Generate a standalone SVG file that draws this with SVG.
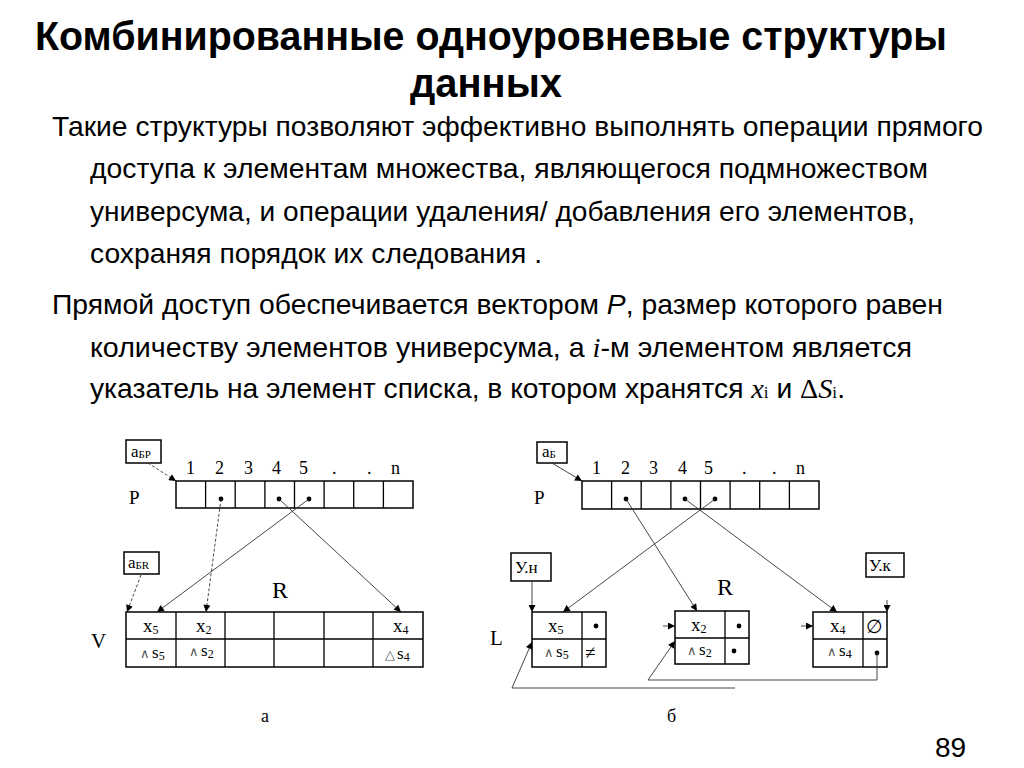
<svg xmlns="http://www.w3.org/2000/svg" width="1024" height="768" viewBox="0 0 1024 768">
<defs>
<style>
.title{font-family:"Liberation Sans",Arial,sans-serif;font-weight:bold;font-size:40px;fill:#000}
.body{font-family:"Liberation Sans",Arial,sans-serif;font-size:28px;fill:#000}
.tm{font-family:"Liberation Serif","Times New Roman",serif;fill:#000}
.box{fill:none;stroke:#000;stroke-width:1.5}
.cell{fill:none;stroke:#000;stroke-width:1.3}
.con{fill:none;stroke:#333;stroke-width:0.9}
.dash{stroke-dasharray:3 2}
.num{font-size:18px}
.lab{font-size:17px}
.sub{font-size:11px}
.cx{font-size:19px}
.cs{font-size:12px}
.ss{font-size:17px}
.wedge{font-size:13px;fill:#555}
</style>
<marker id="ah" viewBox="0 0 10 10" refX="10" refY="5" markerWidth="10" markerHeight="7" orient="auto" markerUnits="userSpaceOnUse">
<path d="M0,0 L10,5 L0,10 z" fill="#000"/>
</marker>
</defs>
<rect x="0" y="0" width="1024" height="768" fill="#fff"/>

<g id="texts">
<text class="title" x="35" y="50" textLength="912" lengthAdjust="spacingAndGlyphs">Комбинированные одноуровневые структуры</text>
<text class="title" x="410" y="97" textLength="152" lengthAdjust="spacingAndGlyphs">данных</text>
<text class="body" x="52" y="136" textLength="931" lengthAdjust="spacingAndGlyphs">Такие структуры позволяют эффективно выполнять операции прямого</text>
<text class="body" x="90" y="178" textLength="838" lengthAdjust="spacingAndGlyphs">доступа к элементам множества, являющегося подмножеством</text>
<text class="body" x="90" y="221" textLength="825" lengthAdjust="spacingAndGlyphs">универсума, и операции удаления/ добавления его элементов,</text>
<text class="body" x="90" y="263" textLength="452" lengthAdjust="spacingAndGlyphs">сохраняя порядок их следования .</text>
<text class="body" x="52" y="314" textLength="891" lengthAdjust="spacingAndGlyphs">Прямой доступ обеспечивается вектором <tspan font-style="italic">P</tspan>, размер которого равен</text>
<text class="body" x="90" y="357" textLength="822" lengthAdjust="spacingAndGlyphs">количеству элементов универсума, а <tspan font-family="Liberation Serif, serif" font-style="italic">i</tspan>-м элементом  является</text>
<text class="body" x="90" y="398" textLength="755" lengthAdjust="spacingAndGlyphs">указатель на элемент списка, в котором хранятся <tspan font-family="Liberation Serif, serif" font-style="italic">x</tspan><tspan font-family="Liberation Serif, serif" font-size="17px">i</tspan> и <tspan font-family="Liberation Serif, serif">Δ</tspan><tspan font-family="Liberation Serif, serif" font-style="italic">S</tspan><tspan font-family="Liberation Serif, serif" font-size="17px">i</tspan>.</text>
<text class="body" x="935" y="757" font-size="27px">89</text>
</g>

<!-- Left diagram (a) -->
<g id="a-labels" class="tm">
<text class="num" x="186" y="474">1</text>
<text class="num" x="215" y="474">2</text>
<text class="num" x="244" y="474">3</text>
<text class="num" x="272" y="474">4</text>
<text class="num" x="299" y="474">5</text>
<text class="num" x="332" y="474">.</text>
<text class="num" x="367" y="474">.</text>
<text class="num" x="391" y="474">n</text>
<text x="129" y="504" font-size="19px">P</text>
<text x="91" y="648" font-size="21px">V</text>
<text x="272" y="598" font-size="24px">R</text>
<text x="261" y="722" font-size="18px">а</text>
</g>

<g id="a-aBP">
<rect class="box" x="126" y="440" width="35" height="23"/>
<text class="tm lab" x="131" y="457">a<tspan class="sub" dy="1">БР</tspan></text>
</g>

<g id="a-P">
<rect class="box" x="176" y="481" width="237" height="27"/>
<path class="cell" d="M205.6,481V508M235.2,481V508M264.9,481V508M294.5,481V508M324.1,481V508M353.7,481V508M383.4,481V508"/>
<circle cx="221" cy="499" r="2.4"/>
<circle cx="279" cy="499" r="2.4"/>
<circle cx="309" cy="499" r="2.4"/>
</g>

<g id="a-aBR">
<rect class="box" x="124" y="552" width="35" height="22"/>
<text class="tm lab" x="128" y="568">a<tspan class="sub" dy="1">БR</tspan></text>
</g>

<g id="a-V">
<rect class="box" x="126" y="612" width="297" height="55"/>
<path class="cell" d="M126,639H423M176,612V667M225,612V667M274,612V667M324,612V667M373,612V667"/>
<text class="tm cx" x="143" y="632">x<tspan class="cs" dy="2">5</tspan></text>
<text class="tm cx" x="196" y="632">x<tspan class="cs" dy="2">2</tspan></text>
<text class="tm cx" x="393" y="632">x<tspan class="cs" dy="2">4</tspan></text>
<text class="tm" x="140" y="658"><tspan class="wedge">∧</tspan><tspan class="ss" dx="2">s</tspan><tspan class="cs" dy="2">5</tspan></text>
<text class="tm" x="189" y="656"><tspan class="wedge">∧</tspan><tspan class="ss" dx="2">s</tspan><tspan class="cs" dy="2">2</tspan></text>
<text class="tm" x="385" y="659"><tspan class="wedge">△</tspan><tspan class="ss" dx="2">s</tspan><tspan class="cs" dy="2">4</tspan></text>
</g>

<!-- Right diagram (б) -->
<g id="b-labels" class="tm">
<text class="num" x="592" y="474">1</text>
<text class="num" x="621" y="474">2</text>
<text class="num" x="649" y="474">3</text>
<text class="num" x="678" y="474">4</text>
<text class="num" x="704" y="474">5</text>
<text class="num" x="742" y="474">.</text>
<text class="num" x="772" y="474">.</text>
<text class="num" x="796" y="474">n</text>
<text x="534" y="504" font-size="19px">P</text>
<text x="490" y="645" font-size="21px">L</text>
<text x="717" y="595" font-size="24px">R</text>
<text x="667" y="722" font-size="18px">б</text>
</g>

<g id="b-aB">
<rect class="box" x="537" y="442" width="30" height="21"/>
<text class="tm lab" x="542" y="457">a<tspan class="sub" dy="1">Б</tspan></text>
</g>

<g id="b-P">
<rect class="box" x="582" y="481" width="237" height="28"/>
<path class="cell" d="M611.6,481V509M641.2,481V509M670.9,481V509M700.5,481V509M730.1,481V509M759.7,481V509M789.4,481V509"/>
<circle cx="626" cy="499" r="2.4"/>
<circle cx="685" cy="499" r="2.4"/>
<circle cx="715" cy="499" r="2.4"/>
</g>

<g id="b-Un">
<rect class="box" x="511" y="553" width="40" height="28"/>
<text class="tm" x="515" y="573" font-size="17px">У.н</text>
</g>

<g id="b-Uk">
<rect class="box" x="866" y="553" width="38" height="24"/>
<text class="tm" x="869" y="571" font-size="17px">У.к</text>
</g>

<g id="b-node1">
<rect class="box" x="532" y="612" width="74" height="55"/>
<path class="cell" d="M532,639H606M582,612V667"/>
<text class="tm cx" x="548" y="632">x<tspan class="cs" dy="2">5</tspan></text>
<circle cx="596" cy="626" r="2.4"/>
<text class="tm" x="544" y="657"><tspan class="wedge">∧</tspan><tspan class="ss" dx="2">s</tspan><tspan class="cs" dy="2">5</tspan></text>
<text class="tm" x="585" y="659" font-size="19px">≠</text>
</g>

<g id="b-node2">
<rect class="box" x="675" y="611" width="74" height="53"/>
<path class="cell" d="M675,638H749M725,611V664"/>
<text class="tm cx" x="691" y="631">x<tspan class="cs" dy="2">2</tspan></text>
<circle cx="739" cy="626" r="2.4"/>
<text class="tm" x="687" y="655"><tspan class="wedge">∧</tspan><tspan class="ss" dx="2">s</tspan><tspan class="cs" dy="2">2</tspan></text>
<circle cx="734" cy="651" r="2.4"/>
</g>

<g id="b-node3">
<rect class="box" x="813" y="612" width="74" height="55"/>
<path class="cell" d="M813,639H887M863,612V667"/>
<text class="tm cx" x="830" y="632">x<tspan class="cs" dy="2">4</tspan></text>
<text class="tm" x="866" y="633" font-size="19px">∅</text>
<text class="tm" x="827" y="656"><tspan class="wedge">∧</tspan><tspan class="ss" dx="2">s</tspan><tspan class="cs" dy="2">4</tspan></text>
<circle cx="877" cy="653" r="2.4"/>
</g>

<g id="connectors">
<line class="con dash" x1="148" y1="463" x2="176" y2="481" marker-end="url(#ah)"/>
<line class="con dash" x1="141" y1="575" x2="127" y2="612" marker-end="url(#ah)"/>
<line class="con" x1="309" y1="499" x2="157" y2="612" marker-end="url(#ah)"/>
<line class="con dash" x1="221" y1="499" x2="206" y2="612" marker-end="url(#ah)"/>
<line class="con" x1="279" y1="499" x2="401" y2="612" marker-end="url(#ah)"/>

<line class="con" x1="552" y1="463" x2="582" y2="481" marker-end="url(#ah)"/>
<line class="con" x1="532" y1="581" x2="532" y2="612" marker-end="url(#ah)"/>
<line class="con" x1="715" y1="499" x2="563" y2="612" marker-end="url(#ah)"/>
<line class="con" x1="626" y1="499" x2="697" y2="611" marker-end="url(#ah)"/>
<line class="con" x1="685" y1="499" x2="837" y2="612" marker-end="url(#ah)"/>
<line class="con" x1="663" y1="626" x2="675" y2="626" marker-end="url(#ah)"/>
<line class="con" x1="801" y1="626" x2="813" y2="626" marker-end="url(#ah)"/>
<line class="con" x1="887" y1="600" x2="887" y2="612" marker-end="url(#ah)"/>
<polyline class="con" points="877,653 877,680 648,680 675,641" marker-end="url(#ah)"/>
<polyline class="con" points="735,688 512,688 532,642" marker-end="url(#ah)"/>
</g>
</svg>
